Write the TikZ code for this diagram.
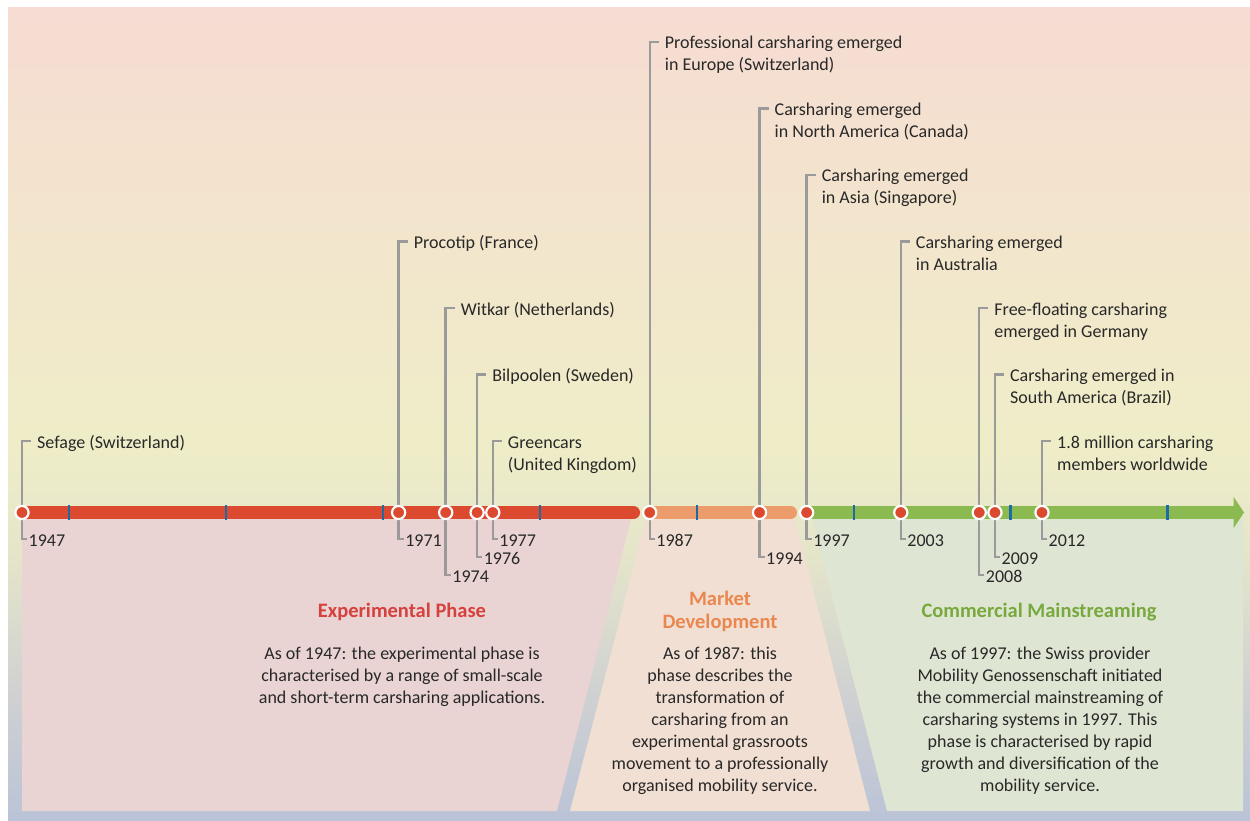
\documentclass[tikz,border=0pt]{standalone}
\usepackage{fontspec}
\setmainfont{Carlito}
\pgfdeclarelayer{bg}
\pgfdeclarelayer{lns}
\pgfsetlayers{bg,lns,main}
\definecolor{bgA}{RGB}{186,195,215}
\definecolor{bgB}{RGB}{205,207,210}
\definecolor{bgC}{RGB}{228,228,202}
\definecolor{bgD}{RGB}{239,237,200}
\definecolor{bgE}{RGB}{242,230,204}
\definecolor{bgF}{RGB}{246,220,210}
\definecolor{expfill}{RGB}{233,211,211}
\definecolor{mktfill}{RGB}{242,223,211}
\definecolor{comfill}{RGB}{222,230,211}
\definecolor{barred}{RGB}{219,74,47}
\definecolor{barorange}{RGB}{236,155,107}
\definecolor{bargreen}{RGB}{139,186,81}
\definecolor{tickblue}{RGB}{29,107,166}
\definecolor{leadgray}{RGB}{154,154,154}
\definecolor{txt}{RGB}{40,40,40}
\definecolor{hdred}{RGB}{214,64,61}
\definecolor{hdorange}{RGB}{233,135,79}
\definecolor{hdgreen}{RGB}{120,169,61}
\pgfdeclareverticalshading{bgsh}{100bp}{color(0bp)=(bgA); color(25bp)=(bgA); color(32bp)=(bgB); color(41bp)=(bgC); color(48bp)=(bgD); color(60bp)=(bgE); color(75bp)=(bgF); color(100bp)=(bgF)}
\newcommand\twolines[2]{\vtop{\hbox{\strut#1}\hbox{\strut#2}}}
\newcommand\ev[5]{%
  \pgfmathsetmacro\xx{22+(#1-1947)*15.6923}%
  \pgfmathsetmacro\ty{42+66.5*(#2)}%
  \pgfmathsetmacro\dy{539+18*(#3)}%
  \node[evdot] (e#1) at (\xx,512.5) {};
  \coordinate (u#1) at (\xx,\ty);
  \coordinate (d#1) at (\xx,\dy);
  \node[lbl] (l#1) at (\xx+15,\ty+7) {\twolines{#4}{#5}};
  \node[lbl] (y#1) at (\xx+6.5,\dy+7) {#1};
  \begin{pgfonlayer}{lns}
    \draw[leader] (e#1.center) -- (u#1) -- ++(9,0);
    \draw[leader] (e#1.center) -- (d#1) -- ++(5,0);
  \end{pgfonlayer}
}
\newcommand\evone[4]{%
  \pgfmathsetmacro\xx{22+(#1-1947)*15.6923}%
  \pgfmathsetmacro\ty{42+66.5*(#2)}%
  \pgfmathsetmacro\dy{539+18*(#3)}%
  \node[evdot] (e#1) at (\xx,512.5) {};
  \coordinate (u#1) at (\xx,\ty);
  \coordinate (d#1) at (\xx,\dy);
  \node[lbl] (l#1) at (\xx+15,\ty+7) {#4};
  \node[lbl] (y#1) at (\xx+6.5,\dy+7) {#1};
  \begin{pgfonlayer}{lns}
    \draw[leader] (e#1.center) -- (u#1) -- ++(9,0);
    \draw[leader] (e#1.center) -- (d#1) -- ++(5,0);
  \end{pgfonlayer}
}
\tikzset{
  evdot/.style={circle, fill=barred, draw=white, line width=2.2pt, minimum size=13.2pt, inner sep=0pt},
  lbl/.style={anchor=base west, inner sep=0pt, text=txt, font=\fontsize{18}{22}\selectfont},
  leader/.style={draw=leadgray, line width=2.4pt},
  barline/.style={line width=13pt},
  decade/.style={draw=tickblue, line width=2.4pt},
  body/.style={anchor=north, align=center, inner sep=0pt, text=txt, font=\fontsize{18}{22}\selectfont},
  head/.style={align=center, inner sep=0pt, font=\fontsize{20.5}{23.5}\selectfont\bfseries}
}
\begin{document}
\begin{tikzpicture}[x=1pt,y=-1pt]
\useasboundingbox (0,0) rectangle (1250,821);
\begin{pgfonlayer}{bg}
  \shade[shading=bgsh] (8,8) rectangle (1250,821);
  \fill[expfill] (22,519) -- (631,519) -- (557,811) -- (22,811) -- cycle;
  \fill[mktfill] (646,519) -- (795,519) -- (870,811) -- (570,811) -- cycle;
  \fill[comfill] (812,519) -- (1243,519) -- (1243,811) -- (887,811) -- cycle;
\end{pgfonlayer}
% timeline bar
\draw[barline, barred, line cap=round] (28,512.5) -- (633.5,512.5);
\draw[barline, barorange, line cap=round] (655,512.5) -- (790.5,512.5);
\draw[barline, bargreen] (806.6,512.5) -- (1234,512.5);
\coordinate (tipA) at (1233.5,496.7);
\coordinate (tipB) at (1244,512.5);
\coordinate (tipC) at (1233.5,528.3);
\fill[bargreen] (tipA) -- (tipB) -- (tipC) -- cycle;
% decade ticks
\foreach \d in {1950,1960,...,2020}{
  \pgfmathsetmacro\xd{22+(\d-1947)*15.6923}
  \draw[decade] (\xd,505) -- (\xd,520);
}
% events
\evone{1947}{6}{0}{Sefage (Switzerland)}
\evone{1971}{3}{0}{Procotip (France)}
\evone{1974}{4}{2}{Witkar (Netherlands)}
\evone{1976}{5}{1}{Bilpoolen (Sweden)}
\ev{1977}{6}{0}{Greencars}{(United Kingdom)}
\ev{1987}{0}{0}{Professional carsharing emerged}{in Europe (Switzerland)}
\ev{1994}{1}{1}{Carsharing emerged}{in North America (Canada)}
\ev{1997}{2}{0}{Carsharing emerged}{in Asia (Singapore)}
\ev{2003}{3}{0}{Carsharing emerged}{in Australia}
\ev{2008}{4}{2}{Free-floating carsharing}{emerged in Germany}
\ev{2009}{5}{1}{Carsharing emerged in}{South America (Brazil)}
\ev{2012}{6}{0}{1.8 million carsharing}{members worldwide}
% phase texts
\node[head, anchor=base, text=hdred] (hexp) at (402,617) {Experimental Phase};
\node[head, anchor=north, text=hdorange] (hmkt) at (720,588.5) {\strut Market\\Development};
\node[head, anchor=base, text=hdgreen] (hcom) at (1039,617) {Commercial Mainstreaming};
\node[body] (texp) at (402,643.6) {\strut As of 1947: the experimental phase is\\characterised by a range of small-scale\\and short-term carsharing applications.};
\node[body] (tmkt) at (720,643.6) {\strut As of 1987: this\\phase describes the\\transformation of\\carsharing from an\\experimental grassroots\\movement to a professionally\\organised mobility service.};
\node[body] (tcom) at (1040,643.6) {\strut As of 1997: the Swiss provider\\Mobility Genossenschaft initiated\\the commercial mainstreaming of\\carsharing systems in 1997. This\\phase is characterised by rapid\\growth and diversification of the\\mobility service.};
\end{tikzpicture}
\end{document}
